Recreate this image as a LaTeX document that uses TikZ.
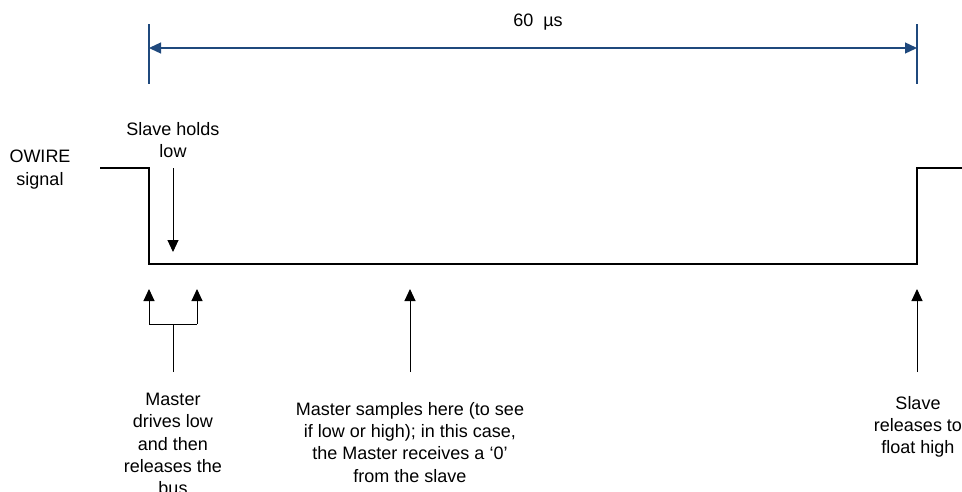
\documentclass[tikz,border=0pt]{standalone}
\usepackage{fontspec}
\setmainfont{Liberation Sans}
\usetikzlibrary{arrows.meta}
\definecolor{dimblue}{RGB}{31,73,125}
\begin{document}
\begin{tikzpicture}[x=1pt,y=-1pt,
  lbl/.style={align=center,inner sep=0pt,anchor=north,font=\fontsize{18}{22.3}\selectfont},
  sig/.style={line width=2.6pt,black},
  ptr/.style={line width=1pt,black,-{Triangle[length=12pt,width=11pt]}},
  dimln/.style={line width=1.3pt,dimblue},
  dimarr/.style={line width=1.3pt,dimblue,{Triangle[length=12pt,width=11pt]}-{Triangle[length=12pt,width=11pt]}}]
\useasboundingbox (0,0) rectangle (962,491);
% dimension
\coordinate (tl1) at (149,24); \coordinate (tl2) at (149,84);
\coordinate (tr1) at (917,24); \coordinate (tr2) at (917,84);
\coordinate (dl) at (149,48); \coordinate (dr) at (917,48);
\draw[dimln] (tl1) -- (tl2);
\draw[dimln] (tr1) -- (tr2);
\draw[dimarr] (dl) -- (dr);
\node[lbl] (dimtxt) at (538,14) {60\ \ µs};
% signal
\coordinate (s0) at (100,168); \coordinate (s1) at (149,168);
\coordinate (s2) at (149,264); \coordinate (s3) at (917,264);
\coordinate (s4) at (917,168); \coordinate (s5) at (962,168);
\draw[sig,line join=miter] (s0) -- (s1) -- (s2) -- (s3) -- (s4) -- (s5);
\node[lbl] (owire) at (40,150) {OWIRE\\signal};
% slave holds low
\node[lbl] (shl) at (173,122) {Slave holds\\low};
\coordinate (shla) at (173,168); \coordinate (shlb) at (173,252);
\draw[ptr] (shla) -- (shlb);
% master drives low
\coordinate (mb) at (173,372); \coordinate (mj) at (173,324);
\coordinate (ml) at (149,324); \coordinate (mr) at (197,324);
\coordinate (mlt) at (149,289); \coordinate (mrt) at (197,289);
\draw[line width=1pt] (mb) -- (mj);
\draw[line width=1pt] (ml) -- (mr);
\draw[ptr] (ml) -- (mlt);
\draw[ptr] (mr) -- (mrt);
\node[lbl] (mdl) at (173,393) {Master\\drives low\\and then\\releases the\\bus};
% master samples
\coordinate (msb) at (410,372); \coordinate (mst) at (410,289);
\draw[ptr] (msb) -- (mst);
\node[lbl] (ms) at (410,402) {Master samples here (to see\\if low or high); in this case,\\the Master receives a ‘0’\\from the slave};
% slave releases
\coordinate (srb) at (917,372); \coordinate (srt) at (917,289);
\draw[ptr] (srb) -- (srt);
\node[lbl] (sr) at (918,396) {Slave\\releases to\\float high};
\end{tikzpicture}
\end{document}
